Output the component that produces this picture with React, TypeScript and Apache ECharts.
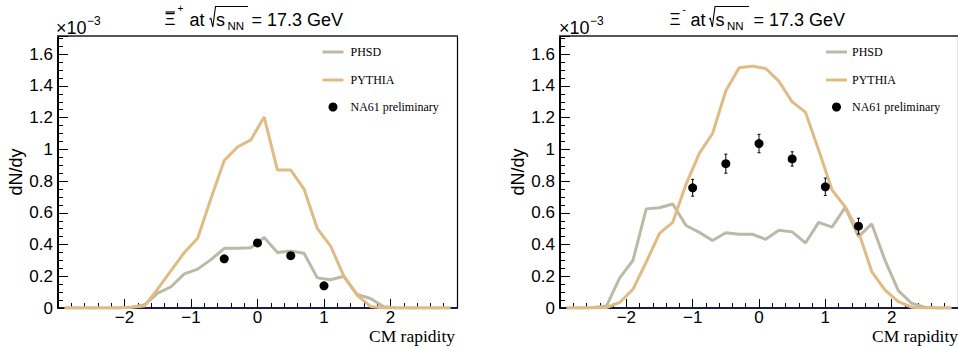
import React, { useEffect, useRef } from "react";
import * as echarts from "echarts";

// bin centres (CM rapidity)
const rapidityBins = [
  -2.9, -2.7, -2.5, -2.3, -2.1, -1.9, -1.7, -1.5, -1.3, -1.1,
  -0.9, -0.7, -0.5, -0.3, -0.1, 0.1, 0.3, 0.5, 0.7, 0.9,
  1.1, 1.3, 1.5, 1.7, 1.9, 2.1, 2.3, 2.5, 2.7, 2.9,
];

// anti-Xi+ (left panel), units of 1e-3
const xiPlusPhsd = [
  0, 0, 0, 0, 0, 0.004, 0.02, 0.094, 0.134, 0.215,
  0.245, 0.305, 0.376, 0.376, 0.38, 0.445, 0.35, 0.36, 0.345, 0.19,
  0.178, 0.2, 0.085, 0.06, 0.008, 0, 0, 0, 0, 0,
];
const xiPlusPythia = [
  0, 0, 0, 0, 0, 0.004, 0.012, 0.12, 0.235, 0.35,
  0.44, 0.69, 0.93, 1.015, 1.06, 1.205, 0.87, 0.87, 0.75, 0.5,
  0.39, 0.2, 0.08, 0.01, 0, 0, 0, 0, 0, 0,
];
const xiPlusNa61X = [-0.5, 0, 0.5, 1.0];
const xiPlusNa61Y = [0.31, 0.41, 0.33, 0.14];
const xiPlusNa61Err = [0.02, 0.02, 0.02, 0.015];

// Xi- (right panel), units of 1e-3
const xiMinusPhsd = [
  0, 0, 0.003, 0.012, 0.19, 0.3, 0.625, 0.632, 0.656, 0.52,
  0.477, 0.426, 0.474, 0.465, 0.465, 0.433, 0.49, 0.48, 0.41, 0.54,
  0.51, 0.634, 0.45, 0.53, 0.3, 0.11, 0.03, 0.005, 0, 0,
];
const xiMinusPythia = [
  0, 0, 0, 0.003, 0.035, 0.118, 0.29, 0.47, 0.54, 0.78,
  0.975, 1.1, 1.37, 1.515, 1.525, 1.51, 1.43, 1.3, 1.235, 0.995,
  0.745, 0.638, 0.48, 0.23, 0.113, 0.04, 0.005, 0, 0, 0,
];
const xiMinusNa61X = [-1.0, -0.5, 0, 0.5, 1.0, 1.5];
const xiMinusNa61Y = [0.758, 0.91, 1.037, 0.94, 0.764, 0.516];
const xiMinusNa61Err = [0.053, 0.06, 0.058, 0.045, 0.055, 0.05];

const xTicks = { min: -3, max: 3, interval: 1 };
const yTicks = { min: 0, max: 1.715, interval: 0.2 };

const PHSD_COLOR = "#bdb9a7";
const PYTHIA_COLOR = "#e0bb84";
const SANS = "Liberation Sans, Arial, sans-serif";
const SERIF = "Liberation Serif, Times New Roman, serif";

function fmtX(v: number) {
  if (v < 0) return "\u2212" + Math.abs(v);
  return String(v);
}
function fmtY(v: number) {
  return String(Math.round(v * 10) / 10);
}

function mainXAxis(gridIndex: number) {
  return {
    type: "value",
    gridIndex,
    min: xTicks.min,
    max: xTicks.max,
    interval: xTicks.interval,
    position: "bottom",
    axisLine: { show: true, onZero: false, lineStyle: { color: "#1c1c44", width: 2 } },
    axisTick: { show: true, inside: true, length: 9, lineStyle: { color: "#000", width: 1 } },
    minorTick: { show: true, splitNumber: 5, length: 5, lineStyle: { color: "#000", width: 1 } },
    axisLabel: {
      show: true,
      formatter: fmtX,
      showMinLabel: false,
      showMaxLabel: false,
      color: "#000",
      fontFamily: SANS,
      fontSize: 17,
      lineHeight: 13,
      margin: 3,
    },
    splitLine: { show: false },
  };
}
function frameXAxis(gridIndex: number) {
  return {
    type: "value",
    gridIndex,
    min: 0,
    max: 1,
    position: "top",
    axisLine: { show: true, onZero: false, lineStyle: { color: "#555", width: 2 } },
    axisTick: { show: false },
    axisLabel: { show: false },
    splitLine: { show: false },
  };
}
function mainYAxis(gridIndex: number) {
  return {
    type: "value",
    gridIndex,
    min: yTicks.min,
    max: yTicks.max,
    interval: yTicks.interval,
    position: "left",
    name: "dN/dy",
    nameLocation: "middle",
    nameRotate: 90,
    nameGap: 33,
    nameTextStyle: { color: "#000", fontFamily: SANS, fontSize: 18 },
    axisLine: { show: true, onZero: false, lineStyle: { color: "#000", width: 2 } },
    axisTick: { show: true, inside: true, length: 10, lineStyle: { color: "#000", width: 1 } },
    minorTick: { show: true, splitNumber: 4, length: 5, lineStyle: { color: "#000", width: 1 } },
    axisLabel: {
      show: true,
      formatter: fmtY,
      showMaxLabel: false,
      color: "#000",
      fontFamily: SANS,
      fontSize: 17,
      margin: 5,
    },
    splitLine: { show: false },
  };
}
function frameYAxis(gridIndex: number) {
  return {
    type: "value",
    gridIndex,
    min: 0,
    max: 1,
    position: "right",
    axisLine: { show: true, onZero: false, lineStyle: { color: "#000", width: 1.2 } },
    axisTick: { show: false },
    axisLabel: { show: false },
    splitLine: { show: false },
  };
}

function lineSeries(name: string, values: number[], color: string, idx: number, z: number) {
  return {
    name,
    type: "line",
    xAxisIndex: idx,
    yAxisIndex: idx,
    data: rapidityBins.map((x, i) => [x, values[i]]),
    showSymbol: false,
    symbol: "none",
    lineStyle: { color, width: 3 },
    z,
  };
}
function pointSeries(xs: number[], ys: number[], idx: number) {
  return {
    name: "NA61 preliminary",
    type: "scatter",
    xAxisIndex: idx,
    yAxisIndex: idx,
    data: xs.map((x, i) => [x, ys[i]]),
    symbol: "circle",
    symbolSize: 9,
    itemStyle: { color: "#000", opacity: 1 },
    z: 6,
  };
}
function errorSeries(xs: number[], ys: number[], es: number[], idx: number) {
  return {
    type: "custom",
    xAxisIndex: idx,
    yAxisIndex: idx,
    encode: { x: 0, y: 1 },
    data: xs.map((x, i) => [x, ys[i], es[i]]),
    renderItem: (params: any, api: any) => {
      const x = api.value(0);
      const y = api.value(1);
      const e = api.value(2);
      const top = api.coord([x, y + e]);
      const bot = api.coord([x, y - e]);
      const st = { stroke: "#000", lineWidth: 1 };
      return {
        type: "group",
        children: [
          { type: "line", shape: { x1: top[0], y1: top[1], x2: bot[0], y2: bot[1] }, style: st },
          { type: "line", shape: { x1: top[0] - 1.5, y1: top[1], x2: top[0] + 1.5, y2: top[1] }, style: st },
          { type: "line", shape: { x1: bot[0] - 1.5, y1: bot[1], x2: bot[0] + 1.5, y2: bot[1] }, style: st },
        ],
      };
    },
    z: 5,
  };
}

function txt(text: string, x: number, y: number, size: number, family = SANS, align = "left", lh?: number) {
  const style: any = {
    text,
    fill: "#000",
    fontSize: size,
    fontFamily: family,
    textAlign: align,
    textVerticalAlign: "middle",
    align,
    verticalAlign: "middle",
  };
  if (lh) style.lineHeight = lh;
  return { type: "text", x, y, silent: true, style };
}

function titleGraphics(s: {
  xi: number; sup: string; supX: number; supY: number; bar: boolean;
  at: number; rad: number; s: number; nn: number; eq: number; barEnd: number;
}) {
  const els: any[] = [
    txt("\u039E", s.xi, 19.5, 17),
    txt(s.sup, s.supX, s.supY, 10),
    txt("at", s.at, 19.5, 18),
    txt("s", s.s, 19.5, 18),
    txt("NN", s.nn, 25.5, 11.5),
    txt("= 17.3 GeV", s.eq, 19.5, 18),
    {
      type: "polyline",
      silent: true,
      shape: {
        points: [
          [s.rad, 19.2],
          [s.rad + 1.4, 18.3],
          [s.rad + 3.3, 27],
          [s.rad + 6, 6.5],
          [s.barEnd, 6.5],
        ],
      },
      style: { stroke: "#000", lineWidth: 1.1, fill: "none" },
    },
  ];
  if (s.bar) {
    els.push({
      type: "line",
      silent: true,
      shape: { x1: s.xi + 1, y1: 12, x2: s.xi + 10.5, y2: 12 },
      style: { stroke: "#000", lineWidth: 1.2 },
    });
  }
  return els;
}

function legendGraphics(lineX: number, textX: number, dotX: number) {
  return [
    {
      type: "line",
      silent: true,
      shape: { x1: lineX, y1: 52, x2: lineX + 21, y2: 52 },
      style: { stroke: PHSD_COLOR, lineWidth: 3 },
    },
    txt("PHSD", textX, 52, 12, SERIF),
    {
      type: "line",
      silent: true,
      shape: { x1: lineX, y1: 80, x2: lineX + 21, y2: 80 },
      style: { stroke: PYTHIA_COLOR, lineWidth: 3 },
    },
    txt("PYTHIA", textX, 80, 12, SERIF),
    {
      type: "circle",
      silent: true,
      shape: { cx: dotX, cy: 107, r: 4.5 },
      style: { fill: "#000" },
    },
    txt("NA61 preliminary", textX, 107, 12, SERIF),
  ];
}

export default function App() {
  const ref = useRef<HTMLDivElement>(null);
  useEffect(() => {
    if (!ref.current) return;
    const chart = echarts.init(ref.current, undefined, { renderer: "svg" });
    const graphic: any[] = [
      ...titleGraphics({
        xi: 164.5, sup: "+", supX: 177.5, supY: 8.5, bar: true,
        at: 189.5, rad: 209.5, s: 216, nn: 227.5, eq: 251.5, barEnd: 248,
      }),
      ...titleGraphics({
        xi: 669.5, sup: "-", supX: 682.5, supY: 9.5, bar: false,
        at: 690.5, rad: 709, s: 715.5, nn: 727, eq: 753.5, barEnd: 749,
      }),
      txt("\u00D710", 56, 27.5, 18),
      txt("\u22123", 87, 21, 12),
      txt("\u00D710", 559, 27.5, 18),
      txt("\u22123", 590, 21, 12),
      ...legendGraphics(322.5, 350.5, 333),
      ...legendGraphics(826, 852, 836.5),
      txt("CM rapidity", 455, 335.5, 17.5, SERIF, "right", 13),
      txt("CM rapidity", 958, 335.5, 17.5, SERIF, "right", 13),
    ];
    chart.setOption({
      animation: false,
      backgroundColor: "#fff",
      grid: [
        { left: 58, top: 36, width: 399, height: 272, containLabel: false },
        { left: 560, top: 36, width: 400, height: 272, containLabel: false },
      ],
      xAxis: [mainXAxis(0), mainXAxis(1), frameXAxis(0), frameXAxis(1)],
      yAxis: [mainYAxis(0), mainYAxis(1), frameYAxis(0), frameYAxis(1)],
      series: [
        lineSeries("PHSD", xiPlusPhsd, PHSD_COLOR, 0, 2),
        lineSeries("PYTHIA", xiPlusPythia, PYTHIA_COLOR, 0, 3),
        errorSeries(xiPlusNa61X, xiPlusNa61Y, xiPlusNa61Err, 0),
        pointSeries(xiPlusNa61X, xiPlusNa61Y, 0),
        lineSeries("PHSD", xiMinusPhsd, PHSD_COLOR, 1, 2),
        lineSeries("PYTHIA", xiMinusPythia, PYTHIA_COLOR, 1, 3),
        errorSeries(xiMinusNa61X, xiMinusNa61Y, xiMinusNa61Err, 1),
        pointSeries(xiMinusNa61X, xiMinusNa61Y, 1),
      ],
      graphic,
    });
    return () => chart.dispose();
  }, []);
  return (
    <div
      ref={ref}
      style={{ position: "fixed", left: 0, top: 0, width: 958, height: 347, background: "#fff" }}
    />
  );
}
